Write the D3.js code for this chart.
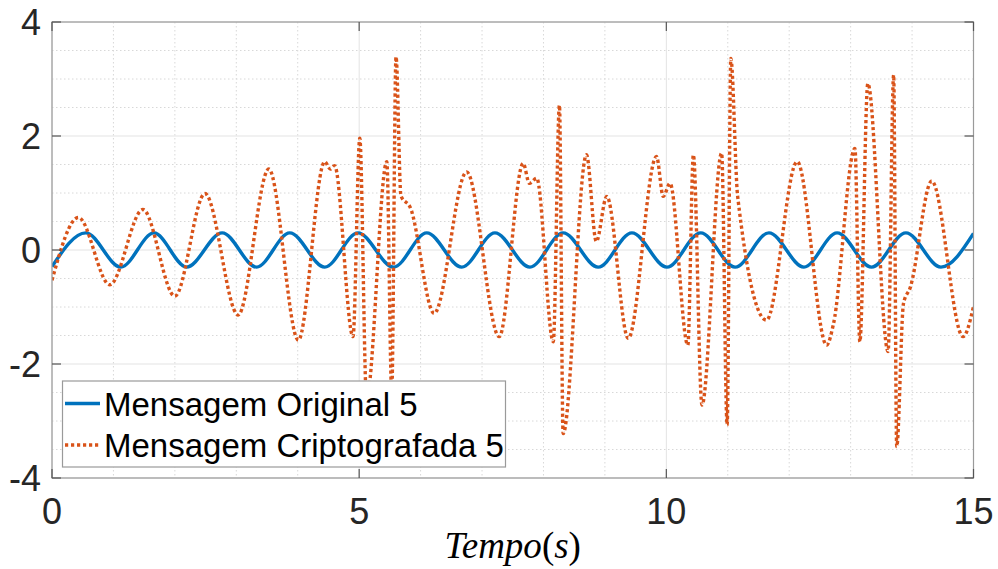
<!DOCTYPE html>
<html>
<head>
<meta charset="utf-8">
<script src="https://cdn.jsdelivr.net/npm/d3@7"></script>
<style>
  html, body { margin: 0; padding: 0; background: #fff; }
  svg { display: block; }
</style>
</head>
<body>
<svg id="chart" width="998" height="569"></svg>
<script>
// ---- data ----
const xTicks = [0, 5, 10, 15];
const yTicks = [-4, -2, 0, 2, 4];
const xMinor = [1, 2, 3, 4, 6, 7, 8, 9, 11, 12, 13, 14];
const yMinor = [-3.5, -3, -2.5, -1.5, -1, -0.5, 0.5, 1, 1.5, 2.5, 3, 3.5];

const seriesNames = ["Mensagem Original 5", "Mensagem Criptografada 5"];

// Original message: extrema (time s, value)
const origTime = [0, 0.55, 1.12, 1.66, 2.19, 2.77, 3.33, 3.87, 4.44, 4.98, 5.56, 6.10, 6.67, 7.21,
                  7.78, 8.32, 8.89, 9.44, 10.01, 10.56, 11.12, 11.67, 12.24, 12.78, 13.34, 13.90, 14.47, 15.0];
const origValue = [-0.29, 0.3, -0.3, 0.3, -0.3, 0.3, -0.3, 0.3, -0.3, 0.3, -0.3, 0.3, -0.3, 0.3,
                   -0.3, 0.3, -0.3, 0.3, -0.3, 0.3, -0.3, 0.3, -0.3, 0.3, -0.3, 0.3, -0.3, 0.29];

// Encrypted message: extrema and shoulders (time s, value)
const cryptTime = [0, 0.43, 0.94, 1.48, 2.00, 2.49, 3.03, 3.53, 4.01, 4.44, 4.53, 4.60, 4.90, 5.01,
                   5.12, 5.45, 5.53, 5.60, 5.68, 5.83, 6.22, 6.75, 7.28, 7.67, 7.77, 7.89, 8.16, 8.26,
                   8.32, 8.70, 8.86, 9.03, 9.38, 9.84, 9.95, 10.06, 10.35, 10.44, 10.58, 10.90, 10.99,
                   11.05, 11.16, 11.63, 12.13, 12.61, 12.72, 13.07, 13.15, 13.28, 13.61, 13.70, 13.75,
                   13.86, 13.97, 14.32, 14.83, 15.0];
const cryptValue = [-0.53, 0.57, -0.61, 0.71, -0.81, 0.99, -1.14, 1.42, -1.58, 1.55, 1.42, 1.48, -1.52, 1.96,
                    -2.6, 1.55, -2.5, 3.39, 0.95, 0.75, -1.11, 1.37, -1.52, 1.52, 1.17, 1.26, -1.61, 2.54,
                    -3.22, 1.67, 0.15, 0.94, -1.55, 1.64, 0.94, 1.17, -1.67, 1.67, -2.72, 1.70, -3.07,
                    3.36, 0.95, -1.23, 1.55, -1.67, -1.3, 1.78, -1.61, 2.92, -1.78, 3.07, -3.45,
                    -0.94, -0.66, 1.21, -1.52, -0.99];

// ---- layout ----
const svg = d3.select("#chart");
const L = 52, R = 973.5, T = 22, B = 478;
const x = d3.scaleLinear().domain([0, 15]).range([L, R]);
const y = d3.scaleLinear().domain([-4, 4]).range([B, T]);
const fontSans = "'Liberation Sans', Arial, Helvetica, sans-serif";

const blue = "#0072BD", orange = "#D95319";

// minor grid
const g = svg.append("g");
g.selectAll(".xminor").data(xMinor).join("line")
  .attr("x1", d => x(d)).attr("x2", d => x(d)).attr("y1", T).attr("y2", B)
  .attr("stroke", "#d8d8d8").attr("stroke-width", 1).attr("stroke-dasharray", "1.5,2.5");
g.selectAll(".yminor").data(yMinor).join("line")
  .attr("y1", d => y(d)).attr("y2", d => y(d)).attr("x1", L).attr("x2", R)
  .attr("stroke", "#d8d8d8").attr("stroke-width", 1).attr("stroke-dasharray", "1.5,2.5");
// major grid
g.selectAll(".xmajor").data(xTicks).join("line")
  .attr("x1", d => x(d)).attr("x2", d => x(d)).attr("y1", T).attr("y2", B)
  .attr("stroke", "#e3e3e3").attr("stroke-width", 1);
g.selectAll(".ymajor").data(yTicks).join("line")
  .attr("y1", d => y(d)).attr("y2", d => y(d)).attr("x1", L).attr("x2", R)
  .attr("stroke", "#e3e3e3").attr("stroke-width", 1);

// lines
const origData = origTime.map((t, i) => [t, origValue[i]]);
const cryptData = cryptTime.map((t, i) => [t, cryptValue[i]]);
const line = d3.line().x(d => x(d[0])).y(d => y(d[1])).curve(d3.curveMonotoneX);

svg.append("clipPath").attr("id", "clip").append("rect")
  .attr("x", L).attr("y", T).attr("width", R - L).attr("height", B - T);

svg.append("path").datum(origData).attr("d", line)
  .attr("fill", "none").attr("stroke", blue).attr("stroke-width", 3.4)
  .attr("clip-path", "url(#clip)");
svg.append("path").datum(cryptData).attr("d", line)
  .attr("fill", "none").attr("stroke", orange).attr("stroke-width", 3.4)
  .attr("stroke-dasharray", "3.2,2.8").attr("clip-path", "url(#clip)");

// box
svg.append("rect").attr("x", L).attr("y", T).attr("width", R - L).attr("height", B - T)
  .attr("fill", "none").attr("stroke", "#9a9a9a").attr("stroke-width", 1.2);

// ticks (inward, all four sides)
const tl = 9;
const tk = svg.append("g").attr("stroke", "#555").attr("stroke-width", 1.2);
xTicks.forEach(d => {
  tk.append("line").attr("x1", x(d)).attr("x2", x(d)).attr("y1", B).attr("y2", B - tl);
  tk.append("line").attr("x1", x(d)).attr("x2", x(d)).attr("y1", T).attr("y2", T + tl);
});
yTicks.forEach(d => {
  tk.append("line").attr("y1", y(d)).attr("y2", y(d)).attr("x1", L).attr("x2", L + tl);
  tk.append("line").attr("y1", y(d)).attr("y2", y(d)).attr("x1", R).attr("x2", R - tl);
});

// tick labels
svg.selectAll(".xl").data(xTicks).join("text")
  .attr("x", d => x(d)).attr("y", 524)
  .attr("text-anchor", "middle").attr("font-family", fontSans).attr("font-size", 36)
  .attr("fill", "#262626").text(d => d);
svg.selectAll(".yl").data(yTicks).join("text")
  .attr("x", 41).attr("y", d => y(d) + 13)
  .attr("text-anchor", "end").attr("font-family", fontSans).attr("font-size", 36)
  .attr("fill", "#262626").text(d => d);

// x label (LaTeX-like)
const xl = svg.append("text").attr("x", (L + R) / 2).attr("y", 558)
  .attr("text-anchor", "middle").attr("font-family", "'Liberation Serif', 'Times New Roman', serif")
  .attr("font-size", 37).attr("fill", "#000");
xl.append("tspan").attr("font-style", "italic").text("Tempo");
xl.append("tspan").text("(");
xl.append("tspan").attr("font-style", "italic").text("s");
xl.append("tspan").text(")");

// legend
const lg = svg.append("g");
lg.append("rect").attr("x", 62.5).attr("y", 381).attr("width", 443).attr("height", 86)
  .attr("fill", "#fff").attr("stroke", "#9a9a9a").attr("stroke-width", 1.2);
const legY = [403.5, 445];
lg.append("line").attr("x1", 65).attr("x2", 100).attr("y1", legY[0]).attr("y2", legY[0])
  .attr("stroke", blue).attr("stroke-width", 3.4);
lg.append("line").attr("x1", 65).attr("x2", 100).attr("y1", legY[1]).attr("y2", legY[1])
  .attr("stroke", orange).attr("stroke-width", 3.4).attr("stroke-dasharray", "3.2,2.8");
lg.selectAll(".lt").data(seriesNames).join("text")
  .attr("x", 104).attr("y", (d, i) => legY[i] + 12)
  .attr("font-family", fontSans).attr("font-size", 33).attr("fill", "#000")
  .text(d => d);
</script>
</body>
</html>
